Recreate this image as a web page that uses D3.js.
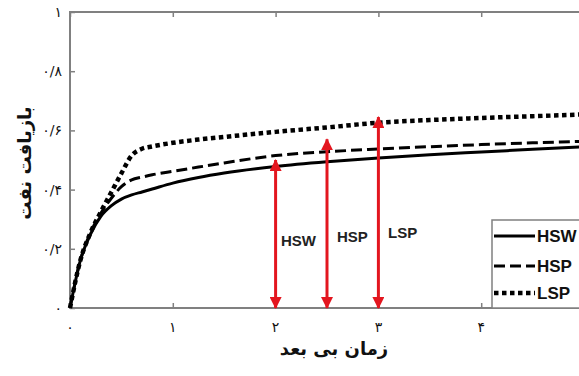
<!DOCTYPE html>
<html>
<head>
<meta charset="utf-8">
<script src="https://cdn.jsdelivr.net/npm/d3@7"></script>
<style>
  html, body { margin: 0; padding: 0; background: #fff; overflow: hidden; }
  svg { display: block; }
</style>
</head>
<body>
<svg id="chart" width="579" height="376"></svg>
<script>
// Dimensionless time samples
const time = [0, 0.1, 0.2, 0.3, 0.4, 0.5, 0.6, 0.7, 0.8, 1.0, 1.25, 1.5, 2, 2.5, 3, 3.5, 4, 4.5, 5];
// Oil recovery for each scenario
const hsw = [0, 0.16, 0.25, 0.31, 0.345, 0.368, 0.382, 0.392, 0.402, 0.422, 0.441, 0.456, 0.478, 0.494, 0.507, 0.518, 0.527, 0.536, 0.545];
const hsp = [0, 0.16, 0.255, 0.32, 0.37, 0.41, 0.433, 0.442, 0.45, 0.462, 0.476, 0.49, 0.515, 0.528, 0.537, 0.545, 0.552, 0.558, 0.563];
const lsp = [0, 0.16, 0.255, 0.325, 0.39, 0.455, 0.515, 0.538, 0.546, 0.558, 0.569, 0.578, 0.595, 0.61, 0.626, 0.635, 0.642, 0.648, 0.654];
const seriesNames = ["HSW", "HSP", "LSP"];
// Annotation arrows: position in time and recovery reached
const arrowNames = ["HSW", "HSP", "LSP"];
const arrowX = [2, 2.5, 3];
const arrowTop = [0.5, 0.57, 0.645];
// Tick labels
const xTicks = [0, 1, 2, 3, 4, 5];
const xTickLabels = ["۰", "۱", "۲", "۳", "۴", "۵"];
const yTicks = [0, 0.2, 0.4, 0.6, 0.8, 1];
const yTickLabels = ["۰", "۰/۲", "۰/۴", "۰/۶", "۰/۸", "۱"];
const xTitle = "زمان بی بعد";
const yTitle = "بازیافت نفت";

const svg = d3.select("#chart");
const m = { left: 70, right: 584, top: 12, bottom: 308 };
const x = d3.scaleLinear().domain([0, 5]).range([m.left, m.right]);
const y = d3.scaleLinear().domain([0, 1]).range([m.bottom, m.top]);
const frameColor = "#808080";

// Plot frame
svg.append("rect")
  .attr("x", m.left).attr("y", m.top)
  .attr("width", m.right - m.left).attr("height", m.bottom - m.top)
  .attr("fill", "none").attr("stroke", frameColor).attr("stroke-width", 2);

// Inward ticks on three visible sides
const tickLen = 5;
const bx = d3.axisTop(x).tickValues(xTicks).tickSize(tickLen).tickFormat("");
const tx = d3.axisBottom(x).tickValues(xTicks).tickSize(tickLen).tickFormat("");
const ly = d3.axisRight(y).tickValues(yTicks).tickSize(tickLen).tickFormat("");
[[bx, `translate(0,${m.bottom})`], [tx, `translate(0,${m.top})`], [ly, `translate(${m.left},0)`]].forEach(([ax, tr]) => {
  const g = svg.append("g").attr("transform", tr).call(ax);
  g.select(".domain").remove();
  g.selectAll("line").attr("stroke", frameColor).attr("stroke-width", 1.5);
});

// Tick labels
const labelFont = "'DejaVu Sans', sans-serif";
svg.append("g").selectAll("text").data(xTicks).join("text")
  .attr("x", d => x(d)).attr("y", 332)
  .attr("text-anchor", "middle")
  .attr("font-family", labelFont).attr("font-size", 14).attr("fill", "#111")
  .text((d, i) => xTickLabels[i]);
svg.append("g").selectAll("text").data(yTicks).join("text")
  .attr("x", 62).attr("y", d => y(d) + 5)
  .attr("text-anchor", "end")
  .attr("font-family", labelFont).attr("font-size", 14).attr("fill", "#111")
  .text((d, i) => yTickLabels[i]);

// Axis titles
svg.append("text")
  .attr("x", 334).attr("y", 355)
  .attr("text-anchor", "middle")
  .attr("font-family", labelFont).attr("font-size", 18).attr("font-weight", "bold")
  .attr("fill", "#111").text(xTitle);
svg.append("text")
  .attr("transform", `translate(31,163) rotate(-90)`)
  .attr("text-anchor", "middle")
  .attr("font-family", labelFont).attr("font-size", 18).attr("font-weight", "bold")
  .attr("fill", "#111").text(yTitle);

// Recovery curves
const styles = {
  HSW: { width: 3, dash: null },
  HSP: { width: 3, dash: "11,5" },
  LSP: { width: 4.5, dash: "4.5,3.5" }
};
const seriesData = [hsw, hsp, lsp];
const line = d3.line().x((d, i) => x(time[i])).y(d => y(d)).curve(d3.curveMonotoneX);
const plot = svg.append("g");
seriesData.forEach((vals, k) => {
  const st = styles[seriesNames[k]];
  plot.append("path")
    .datum(vals)
    .attr("d", line)
    .attr("fill", "none")
    .attr("stroke", "#000")
    .attr("stroke-width", st.width)
    .attr("stroke-dasharray", st.dash);
});

// Red double-headed arrows
const red = "#e3161f";
const defs = svg.append("defs");
defs.append("marker")
  .attr("id", "head")
  .attr("viewBox", "0 0 12 12")
  .attr("refX", 11).attr("refY", 6)
  .attr("markerWidth", 12).attr("markerHeight", 12)
  .attr("markerUnits", "userSpaceOnUse")
  .attr("orient", "auto-start-reverse")
  .append("path").attr("d", "M0,0 L12,6 L0,12 Z").attr("fill", red);
const arrows = svg.append("g");
arrowX.forEach((ax, i) => {
  arrows.append("line")
    .attr("x1", x(ax)).attr("x2", x(ax))
    .attr("y1", y(0)).attr("y2", y(arrowTop[i]))
    .attr("stroke", red).attr("stroke-width", 3)
    .attr("marker-start", "url(#head)")
    .attr("marker-end", "url(#head)");
});
const arrowLabelPos = [[281, 246], [337, 242], [388, 238]];
arrowNames.forEach((n, i) => {
  arrows.append("text")
    .attr("x", arrowLabelPos[i][0]).attr("y", arrowLabelPos[i][1])
    .attr("font-family", "'Liberation Sans', Arial, sans-serif")
    .attr("font-size", 15).attr("font-weight", "bold").attr("fill", "#222")
    .text(n);
});

// Legend
const lg = svg.append("g");
lg.append("rect")
  .attr("x", 492).attr("y", 220).attr("width", 100).attr("height", 88)
  .attr("fill", "#fff").attr("stroke", frameColor).attr("stroke-width", 1.5);
const legendY = [236, 266, 293];
seriesNames.forEach((n, i) => {
  const st = styles[n];
  lg.append("line")
    .attr("x1", 494).attr("x2", 535)
    .attr("y1", legendY[i]).attr("y2", legendY[i])
    .attr("stroke", "#000").attr("stroke-width", st.width)
    .attr("stroke-dasharray", st.dash);
  lg.append("text")
    .attr("x", 537).attr("y", legendY[i] + 6)
    .attr("font-family", "'Liberation Sans', Arial, sans-serif")
    .attr("font-size", 17).attr("font-weight", "bold").attr("fill", "#111")
    .text(n);
});
</script>
</body>
</html>
